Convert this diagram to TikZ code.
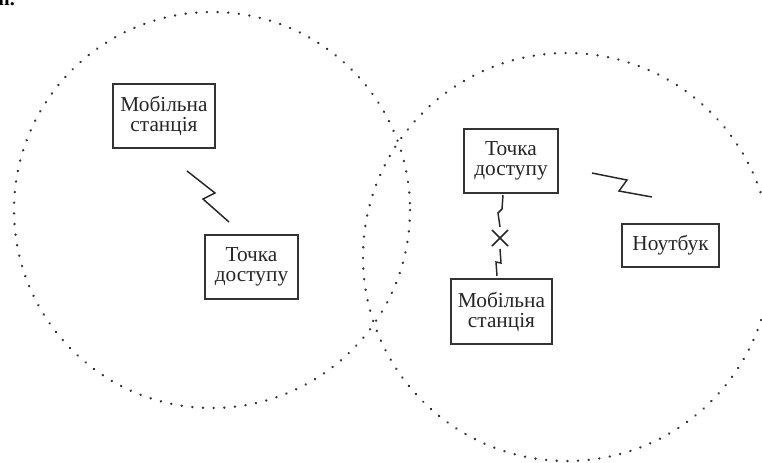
\documentclass[tikz,border=0pt]{standalone}
\usepackage{fontspec}
\setmainfont{Liberation Serif}
\begin{document}
\begin{tikzpicture}[x=0.75pt,y=-0.75pt,
  zone/.style={draw=black!80,line width=1.9pt,dash pattern=on 0.1pt off 7.9pt,line cap=round},
  box/.style={draw=black!80,line width=1.5pt,inner sep=0pt,align=center,
    font=\fontsize{16pt}{15pt}\selectfont,text=black!85},
  bolt/.style={draw=black!85,line width=1.1pt,line join=miter},
  cross/.style={draw=black!85,line width=1.1pt}]
\useasboundingbox (0,0) rectangle (762,462);
% fragment of text above the picture
\node[anchor=base west,inner sep=0pt,font=\bfseries\fontsize{15pt}{15pt}\selectfont] (frag) at (-2,5) {п.};
% coverage zones
\draw[zone] (212,210) circle[radius=198];
\draw[zone] (567,257) circle[radius=204];
% boxes
\node[box,minimum width=76.5pt,minimum height=48pt] (ms1) at (164,116) {Мобільна\\станція};
\node[box,minimum width=69.75pt,minimum height=48pt] (ap1) at (251.5,267) {Точка\\доступу};
\node[box,minimum width=70.5pt,minimum height=48pt] (ap2) at (511,161) {Точка\\доступу};
\node[box,minimum width=75.75pt,minimum height=48.75pt] (ms2) at (501.5,311.5) {Мобільна\\станція};
\node[box,minimum width=72.75pt,minimum height=32.25pt] (nb) at (670.5,245.5) {Ноутбук};
% left radio link
\coordinate (a1) at (187,171);
\coordinate (a2) at (215,193);
\coordinate (a3) at (203,199);
\coordinate (a4) at (229,222);
\draw[bolt] (a1) -- (a2) -- (a3) -- (a4);
% right radio link to laptop
\coordinate (b1) at (592,173);
\coordinate (b2) at (627,180);
\coordinate (b3) at (619,191);
\coordinate (b4) at (652,197);
\draw[bolt] (b1) -- (b2) -- (b3) -- (b4);
% broken link
\coordinate (c1) at (503,195);
\coordinate (c2) at (502,209);
\coordinate (c3) at (498,213);
\coordinate (c4) at (500,227);
\draw[bolt] (c1) -- (c2) -- (c3) -- (c4);
\coordinate (d1) at (500,249);
\coordinate (d2) at (501,263);
\coordinate (d3) at (496,262);
\coordinate (d4) at (497,276);
\draw[bolt] (d1) -- (d2) -- (d3) -- (d4);
\coordinate (x1) at (492,230);
\coordinate (x2) at (508,246);
\coordinate (x3) at (508,230);
\coordinate (x4) at (492,246);
\draw[cross] (x1) -- (x2) (x3) -- (x4);
\end{tikzpicture}
\end{document}
